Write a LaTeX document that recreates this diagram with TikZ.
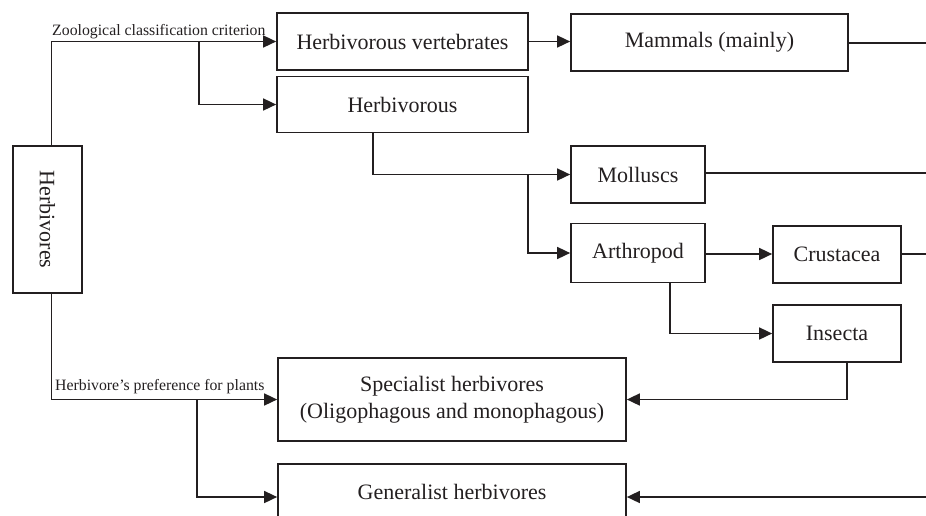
\documentclass[tikz,border=0pt]{standalone}
\usepackage{graphicx}
\usepackage{fontspec}
\setmainfont{Liberation Serif}
\usetikzlibrary{arrows.meta,calc}
\definecolor{ink}{HTML}{231F20}
\tikzset{
  box/.style={draw=ink, line width=1.7pt, rectangle, inner sep=0pt, text=ink,
    font=\fontsize{22}{27}\selectfont, align=center},
  conn/.style={draw=ink, line width=1.6pt},
  arr/.style={conn, -{Triangle[length=13pt,width=12pt]}},
  lbl/.style={text=ink, font=\fontsize{15.8}{18}\selectfont, inner sep=0pt, anchor=base west}
}
\begin{document}
\begin{tikzpicture}[x=1pt,y=-1pt]
\useasboundingbox (0,0) rectangle (926,515);
% nodes
\node[box, minimum width=69pt, minimum height=147pt] (herb) at (47.5,219.5) {\rotatebox{-90}{Herbivores}};
\node[box, minimum width=251pt, minimum height=57pt] (hv) at (402.5,41.5) {Herbivorous vertebrates};
\node[box, minimum width=251pt, minimum height=56pt] (hb) at (402.5,104.5) {Herbivorous};
\node[box, minimum width=277pt, minimum height=57pt] (mam) at (709.5,42.5) {Mammals (mainly)};
\node[box, minimum width=134pt, minimum height=57pt] (moll) at (638,174.5) {Molluscs};
\node[box, minimum width=134pt, minimum height=59pt] (arth) at (638,253) {Arthropod};
\node[box, minimum width=128pt, minimum height=57pt] (crus) at (837,254.5) {Crustacea};
\node[box, minimum width=128pt, minimum height=57pt] (ins) at (837,333.5) {Insecta};
\node[box, minimum width=348pt, minimum height=83pt] (spec) at (452,399.5) {Specialist herbivores\\(Oligophagous and monophagous)};
\node[box, minimum width=348pt, minimum height=66pt, text depth=0pt] (gen) at (452,497) {\raisebox{11pt}{Generalist herbivores}};
% labels
\node[lbl] (l1) at (52,35.5) {Zoological classification criterion};
\node[lbl] (l2) at (55,390) {Herbivore’s preference for plants};
% helper coordinates
\coordinate (c1) at (51.5,0);
\coordinate (b1) at (199,0);
\coordinate (b2) at (197,0);
\coordinate (b3) at (373,0);
\coordinate (b4) at (528,0);
\coordinate (b5) at (670,0);
\coordinate (b6) at (847,0);
\coordinate (r1) at (926,43);
\coordinate (r2) at (926,173);
\coordinate (r3) at (926,254);
\coordinate (r4) at (926,497);
% connectors
\draw[arr] (herb.north -| c1) |- (hv.west);
\draw[arr] (hv.west -| b1) |- (hb.west);
\draw[arr] (herb.south -| c1) |- (spec.west);
\draw[arr] (spec.west -| b2) |- (gen.west |- r4);
\draw[arr] (hv.east) -- (hv.east -| mam.west);
\draw[conn] (mam.east |- r1) -- (r1);
\draw[arr] (hb.south -| b3) |- (moll.west);
\draw[arr] (moll.west -| b4) |- (arth.west);
\draw[conn] (moll.east |- r2) -- (r2);
\draw[arr] (arth.east |- r3) -- (crus.west |- r3);
\draw[conn] (crus.east |- r3) -- (r3);
\draw[arr] (arth.south -| b5) |- (ins.west);
\draw[arr] (ins.south -| b6) |- (spec.east);
\draw[arr] (r4) -- (gen.east |- r4);
\end{tikzpicture}
\end{document}
